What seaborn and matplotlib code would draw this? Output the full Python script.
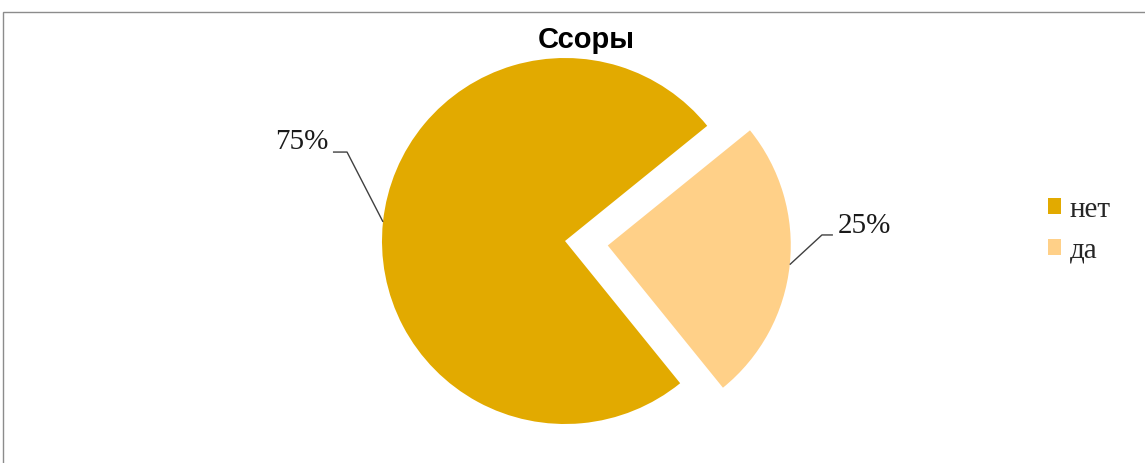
import numpy as np
import seaborn as sns
import matplotlib.pyplot as plt
from matplotlib.patches import Patch, Rectangle

# data
labels = ["нет", "да"]
values = [75, 25]
colors = ["#E2AA00", "#FFD088"]
explode = [0, 0.235]
title = "Ссоры"

sns.set_theme(style="white")
plt.rcParams['font.family'] = ['Liberation Serif', 'DejaVu Serif']

W, H = 1145, 463
fig = plt.figure(figsize=(W / 100, H / 100), dpi=100)
fig.patch.set_facecolor("white")

# pie radius 183 px, centre at (565, 241) from top-left
R, cx, cy = 183.0, 565.0, 241.0
ax = fig.add_axes([0, 0, 1, 1])
start = 39
wedges, _ = ax.pie(values, colors=colors, explode=explode, startangle=start,
                   counterclock=True, radius=1.0,
                   wedgeprops=dict(linewidth=0))
ax.set_xlim(-cx / R, (W - cx) / R)
ax.set_ylim(-(H - cy) / R, cy / R)
ax.set_aspect("auto")
ax.axis("off")

# percent labels with leader lines
total = sum(values)
label_cfg = [
    # elbow, line end, text pos, ha
    dict(elbow=(-1.191, 0.486), end=(-1.268, 0.486), text=(-1.295, 0.541), ha="right"),
    dict(elbow=(1.404, 0.033), end=(1.464, 0.033), text=(1.492, 0.082), ha="left"),
]
theta = start
for v, ex, cfg in zip(values, explode, label_cfg):
    span = 360 * v / total
    mid = np.deg2rad(theta + span / 2)
    r = 1.0 + ex
    px, py = r * np.cos(mid), r * np.sin(mid)
    ax.plot([px, cfg["elbow"][0], cfg["end"][0]],
            [py, cfg["elbow"][1], cfg["end"][1]],
            color="#404040", lw=1.0, solid_capstyle="butt")
    ax.text(cfg["text"][0], cfg["text"][1], f"{v / total:.0%}",
            ha=cfg["ha"], va="center", fontsize=21, color="#1a1a1a")
    theta += span

fig.text(586 / W, 1 - 40 / H, title, ha="center", va="center",
         fontsize=21, fontweight="bold", color="black",
         family=["Liberation Sans Narrow", "Liberation Sans", "DejaVu Sans"])

handles = [Patch(facecolor=c, edgecolor="none", label=l) for c, l in zip(colors, labels)]
leg = fig.legend(handles=handles, loc="upper left",
                 bbox_to_anchor=(1036 / W, 1 - 185 / H),
                 frameon=False, fontsize=21, handlelength=0.45, handleheight=0.45,
                 handletextpad=0.3, labelspacing=0.5, borderaxespad=0)

# chart border (partly cut off, as in the screenshot)
fig.patches.append(Rectangle((3 / W, -0.1), 1.2, 1.1 - 12 / H,
                             transform=fig.transFigure, fill=False,
                             edgecolor="#8c8c8c", lw=1.0))

fig.savefig("out.png", dpi=100, facecolor="white")
